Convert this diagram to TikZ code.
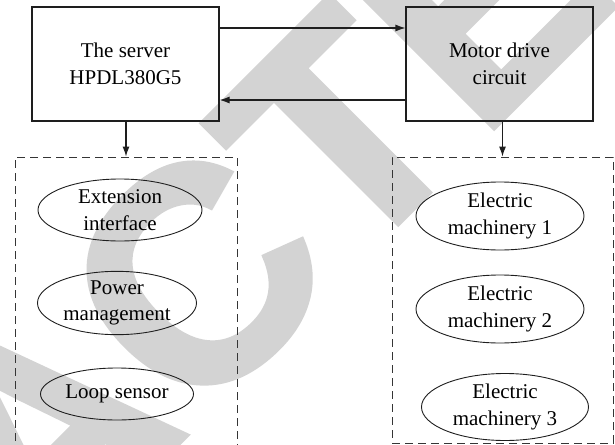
\documentclass[tikz,border=0pt]{standalone}
\usepackage{fontspec}
\setmainfont{Liberation Serif}
\newfontfamily\wmsans[FakeBold=1.6]{Liberation Sans Bold}
\usetikzlibrary{shapes.geometric,arrows.meta}
\definecolor{wmgray}{RGB}{211,211,211}
\definecolor{ink}{RGB}{30,30,30}
\tikzset{
  txt/.style={font=\fontsize{21}{26.5}\selectfont},
  box/.style={draw=ink, line width=1.1pt, rectangle, minimum width=187pt, minimum height=114pt, inner sep=0pt, align=center, txt},
  oval/.style={draw=ink, line width=0.9pt, ellipse, inner sep=0pt, align=center, txt},
  group/.style={draw=ink!90, line width=0.9pt, dash pattern=on 8pt off 5pt},
  arr/.style={draw=ink, line width=1.1pt, -{Latex[length=10pt,width=7pt]}},
}
\begin{document}
\begin{tikzpicture}[x=1pt,y=-1pt]
\useasboundingbox (0,0) rectangle (615,444);
\clip (0,0) rectangle (615,444);
% watermark
\node[rotate=45, anchor=base, text=wmgray, inner sep=0pt, font=\wmsans\fontsize{305}{305}\selectfont] (wm) at (114.5,507.5) {RETRACTED};
% main boxes
\node[box] (srv) at (125.5,64) {The server\\HPDL380G5};
\node[box] (mot) at (499.5,64) {Motor drive\\circuit};
% dashed groups
\node[group, rectangle, minimum width=222pt, minimum height=320pt, inner sep=0pt] (lgrp) at (126,317) {};
\node[group, rectangle, minimum width=221pt, minimum height=286pt, inner sep=0pt] (rgrp) at (502.5,300) {};
% connectors
\draw[arr] (srv.east |- 0,28) -- (mot.west |- 0,28);
\draw[arr] (mot.west |- 0,100) -- (srv.east |- 0,100);
\draw[arr] (srv.south -| lgrp.north) -- (lgrp.north);
\draw[arr] (mot.south -| rgrp.north) -- (rgrp.north);
% left ellipses
\node[oval, minimum width=164pt, minimum height=62pt] (ext) at (120,210) {Extension\\interface};
\node[oval, minimum width=159pt, minimum height=60pt] (pow) at (117,303) {Power\\management};
\node[oval, minimum width=153pt, minimum height=52pt] (loop) at (117,394) {Loop sensor};
% right ellipses
\node[oval, minimum width=168pt, minimum height=68pt] (em1) at (500,216) {Electric\\machinery 1};
\node[oval, minimum width=168pt, minimum height=68pt] (em2) at (500,309) {Electric\\machinery 2};
\node[oval, minimum width=167pt, minimum height=67pt] (em3) at (505,407) {Electric\\machinery 3};
\end{tikzpicture}
\end{document}
